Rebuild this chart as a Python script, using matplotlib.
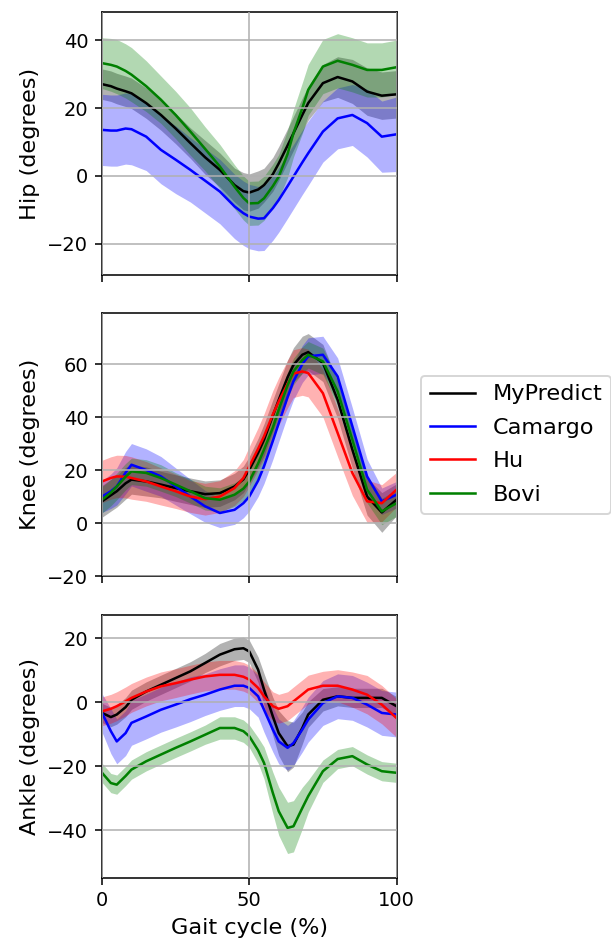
import matplotlib
matplotlib.use("Agg")
import matplotlib.pyplot as plt
import numpy as np

# gait cycle sample points (%)
gait = [0, 3, 5, 8, 10, 15, 20, 25, 30, 35, 40, 45, 48, 50, 53, 55, 58, 60, 63, 65, 68, 70, 75, 80, 85, 90, 95, 100]

methods = ["MyPredict", "Camargo", "Hu", "Bovi"]
colors = ["k", "b", "r", "g"]

# Hip (no Hu data)
hip_mypredict = [27.1, 26.5, 25.8, 25, 24.4, 21.5, 18, 14, 9.7, 5.5, 1.8, -2.7, -4.5, -4.9, -4, -2.7, 0.5, 3.7, 9, 12.6, 18, 21.5, 27.4, 29.2, 27.9, 24.9, 23.7, 24.1]
hip_mypredict_sd = [4.5, 4.5, 4.5, 4.5, 4.5, 4.5, 4.5, 4.5, 4.5, 5, 5, 5, 5.5, 5.5, 5.5, 5, 5, 5, 5, 5, 5, 5, 5.5, 6, 6.5, 7, 7, 7]
hip_camargo = [13.6, 13.4, 13.4, 14, 13.8, 11.6, 7.7, 4.8, 1.8, -1.4, -4.6, -9, -11, -12, -12.6, -12.5, -9.5, -7.1, -3, -0.2, 4, 6.7, 13.1, 17, 18, 15.6, 11.6, 12.3]
hip_camargo_sd = [10.5, 10.5, 10.5, 10.5, 10.5, 10, 10, 10, 9.5, 9.5, 9.5, 9.5, 9.5, 9.5, 9.5, 9.5, 9.5, 9.5, 9.5, 9.5, 9.5, 9.5, 9, 9, 9, 10, 10.5, 11]
hip_bovi = [33.3, 32.8, 32.3, 31, 29.9, 26.5, 22.5, 18, 13.1, 8, 2.8, -3.2, -6.5, -8.1, -8, -6.6, -3, -0.2, 6.5, 12.6, 20, 25.4, 32.3, 34, 32.8, 31.3, 31.3, 32.1]
hip_bovi_sd = [7.5, 7.8, 8, 8, 8, 7.5, 7, 7, 7, 6.5, 6.5, 6.5, 6.5, 6.5, 6.5, 6.5, 6.5, 6.5, 7, 7, 7.5, 7.5, 8, 8, 8, 8, 8, 8]

# Knee
knee_mypredict = [8.2, 10.5, 12, 15, 16.4, 15.7, 14.5, 13.2, 12, 10.9, 11.3, 13.8, 16.5, 20.1, 26.5, 31.4, 40.5, 46.5, 55, 59.7, 63.5, 64.5, 60.4, 46.5, 27.7, 10, 4, 8.8]
knee_mypredict_sd = [6, 6, 6, 6, 5.5, 5.5, 5, 5, 5, 5, 5, 5, 5, 5, 5.5, 6, 6, 6, 6.5, 6.5, 7, 7, 7, 7, 7, 7, 7.5, 6]
knee_camargo = [10, 12, 13.8, 19, 22, 20, 17.6, 13.8, 10, 6.3, 3.8, 5, 7.5, 10, 16, 21.4, 31, 37.7, 47.5, 53.5, 60, 62.9, 63.5, 55.3, 36.5, 17.6, 8.2, 10.7]
knee_camargo_sd = [6, 6.5, 7, 8, 8, 8, 7.5, 7, 6.5, 6, 5.5, 5.5, 5.5, 5.5, 6, 6.5, 7, 7, 7, 7, 7, 7, 7, 7, 7, 6.5, 5, 5]
knee_hu = [15.7, 17, 17.6, 17.5, 17, 15.7, 13.8, 12, 10, 9, 10, 13.2, 17, 21.4, 28, 32.7, 41, 45.9, 52.5, 56.4, 57.2, 56.6, 49, 34, 18.9, 8.2, 7.5, 12.6]
knee_hu_sd = [8, 8, 8, 8, 8, 7.5, 7, 6.5, 6, 6, 6, 6.5, 7, 7.5, 8, 8.5, 9, 9, 9, 9, 9, 9, 9, 9, 8.5, 8, 7, 6.5]
knee_bovi = [8.8, 11.5, 13.8, 17.5, 19.5, 18.9, 17, 14.5, 12, 9.4, 8.8, 10.7, 13, 15.7, 22.5, 27.7, 36, 42.8, 52, 57.2, 61.5, 63.5, 61, 49.7, 31.4, 12.6, 4.4, 7.5]
knee_bovi_sd = [5, 5, 5, 5, 5, 5, 5, 4.5, 4.5, 4.5, 4.5, 4.5, 4.5, 5, 5, 5, 5, 5, 5, 5, 5, 5, 5, 5, 5, 5, 5, 5]

# Ankle
ankle_mypredict = [-3.3, -4.6, -3.8, -1.5, 0.8, 3.4, 5.5, 7.6, 9.7, 12.3, 14.9, 16.6, 16.9, 15.9, 10.2, 4, -4.4, -9.6, -13.7, -13.2, -8, -3.8, 0.8, 1.9, 1.4, 1.4, 1.4, -1.2]
ankle_mypredict_sd = [3, 3, 3, 3, 3, 3, 3, 3, 3, 3, 3.5, 3.5, 3.5, 3.5, 4, 5, 6, 7, 8, 7, 5, 4, 3.5, 3, 3, 3, 3, 3]
ankle_camargo = [-3.3, -9, -12.2, -9.6, -6.4, -4.4, -2.3, -0.7, 1, 2.4, 4, 5.2, 5.2, 4.5, 1.9, -2.3, -8.5, -12.2, -14.2, -12.7, -8.5, -5.4, -0.2, 1.9, 1.4, -0.7, -3.3, -3.8]
ankle_camargo_sd = [6, 7, 7, 7, 7, 7, 7, 7, 7, 6.5, 6.5, 6.5, 6.5, 6.5, 6.5, 7, 7, 7, 7, 7, 7, 7, 7, 7, 7, 7, 7, 7]
ankle_hu = [-2.8, -2, -1.2, 0.3, 1.4, 3.4, 5, 6, 7.1, 8.1, 8.6, 8.6, 8, 7.1, 4.5, 1.9, -1.2, -2, -1.2, 0.3, 2.5, 4, 5.2, 5.2, 4, 2.4, -0.7, -4.9]
ankle_hu_sd = [4.5, 4.5, 4.5, 4.5, 4.5, 4.5, 4.5, 4.5, 4.5, 4.5, 4.5, 4.5, 4.5, 4.5, 4.5, 4.5, 4.5, 4.5, 4.5, 4.5, 4.5, 4.5, 4.5, 5, 5.5, 6, 6, 6]
ankle_bovi = [-22, -25.2, -25.7, -23, -21, -18.4, -16.3, -14.2, -12.2, -10.1, -8, -8, -9, -10.6, -15, -18.9, -28.3, -34, -39.2, -38.7, -33, -29.3, -21.5, -17.7, -16.8, -19.4, -21.5, -22]
ankle_bovi_sd = [3, 3, 3, 3, 3, 3, 3, 3, 3, 3, 3.5, 3.5, 3.5, 3.5, 4, 5, 6.5, 7.5, 8, 8, 6.5, 5, 3.5, 3, 3, 3, 3, 3]

joints = [
    ("Hip (degrees)", [(hip_mypredict, hip_mypredict_sd, 0), (hip_camargo, hip_camargo_sd, 1), (hip_bovi, hip_bovi_sd, 3)],
     (-29.3, 48.3), [-20, 0, 20, 40]),
    ("Knee (degrees)", [(knee_mypredict, knee_mypredict_sd, 0), (knee_camargo, knee_camargo_sd, 1),
                        (knee_hu, knee_hu_sd, 2), (knee_bovi, knee_bovi_sd, 3)],
     (-20, 79.2), [-20, 0, 20, 40, 60]),
    ("Ankle (degrees)", [(ankle_mypredict, ankle_mypredict_sd, 0), (ankle_camargo, ankle_camargo_sd, 1),
                         (ankle_hu, ankle_hu_sd, 2), (ankle_bovi, ankle_bovi_sd, 3)],
     (-54.8, 27.3), [-40, -20, 0, 20]),
]

plt.rcParams['font.size'] = 10
fig = plt.figure(figsize=(611 / 140, 949 / 140), dpi=140)

positions = [
    [0.167, 0.710, 0.482, 0.277],
    [0.167, 0.393, 0.482, 0.277],
    [0.167, 0.075, 0.482, 0.277],
]

x = np.array(gait)
axes = []
for i, (label, series, ylim, yticks) in enumerate(joints):
    ax = fig.add_axes(positions[i])
    for mean, sd, ci in series:
        mean = np.array(mean)
        sd = np.array(sd)
        ax.fill_between(x, mean - sd, mean + sd, color=colors[ci], alpha=0.3, linewidth=0)
        ax.plot(x, mean, color=colors[ci], linewidth=1.3, label=methods[ci])
    ax.set_xlim(0, 100)
    ax.set_ylim(*ylim)
    ax.set_yticks(yticks)
    ax.set_xticks([0, 50, 100])
    ax.grid(True, color='#b0b0b0')
    ax.set_axisbelow(False)
    ax.set_ylabel(label, fontsize=11.5)
    if i < 2:
        ax.set_xticklabels([])
    axes.append(ax)

axes[2].set_xlabel("Gait cycle (%)", fontsize=11.5)

handles, labels = axes[1].get_legend_handles_labels()
order = [labels.index(m) for m in methods]
axes[1].legend([handles[k] for k in order], [labels[k] for k in order],
               loc='center left', bbox_to_anchor=(1.045, 0.5), fontsize=11.5,
               labelspacing=0.6)

fig.savefig("out.png", dpi=140)
